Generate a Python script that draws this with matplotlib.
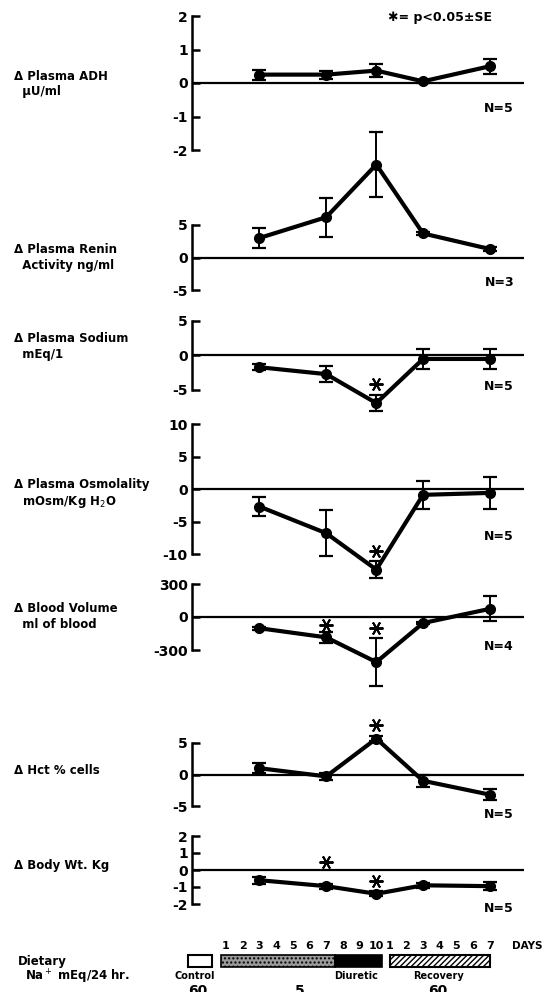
import numpy as np
import matplotlib
matplotlib.use("Agg")
import matplotlib.pyplot as plt
from matplotlib.patches import Rectangle

plt.rcParams['font.family'] = ['DejaVu Sans']

W, H = 546, 992

# sampling days (phase, day number)
point_phase = ['diuretic', 'diuretic', 'diuretic', 'recovery', 'recovery']
point_day = [3, 7, 10, 3, 7]

adh = [0.25, 0.25, 0.37, 0.05, 0.5]
adh_se = [0.15, 0.12, 0.2, 0.05, 0.22]
renin = [3.0, 6.2, 14.3, 3.7, 1.3]
renin_se = [1.6, 3.0, 5.0, 0.3, 0.3]
sodium = [-1.7, -2.7, -6.9, -0.5, -0.5]
sodium_se = [0.4, 1.2, 1.2, 1.4, 1.4]
osmo = [-2.7, -6.8, -12.4, -0.9, -0.6]
osmo_se = [1.4, 3.5, 1.3, 2.1, 2.5]
blood_vol = [-102, -185, -410, -55, 74]
blood_vol_se = [15, 52, 215, 12, 113]
hct = [1.0, -0.3, 5.7, -1.0, -3.2]
hct_se = [0.8, 0.5, 0.4, 1.0, 0.9]
body_wt = [-0.6, -0.95, -1.4, -0.9, -0.95]
body_wt_se = [0.2, 0.15, 0.15, 0.15, 0.25]

# significance stars: index of point, y where the star sits
sodium_star = ([2], [-4.2])
osmo_star = ([2], [-9.6])
blood_vol_star = ([1, 2], [-71, -100])
hct_star = ([2], [7.9])
body_wt_star = ([1, 2], [0.46, -0.63])

labels = ['\u0394 Plasma ADH\n  \u03bcU/ml',
          '\u0394 Plasma Renin\n  Activity ng/ml',
          '\u0394 Plasma Sodium\n  mEq/1',
          '\u0394 Plasma Osmolality\n  mOsm/Kg H$_2$O',
          '\u0394 Blood Volume\n  ml of blood',
          '\u0394 Hct % cells',
          '\u0394 Body Wt. Kg']
n_labels = ['N=5', 'N=3', 'N=5', 'N=5', 'N=4', 'N=5', 'N=5']
yticks = [[-2, -1, 0, 1, 2], [-5, 0, 5], [-5, 0, 5], [-10, -5, 0, 5, 10],
          [-300, 0, 300], [-5, 0, 5], [-2, -1, 0, 1, 2]]
ytick_labels = [['-2', '-1', '0', '1', '2'], ['-5', '0', '5'], ['-5', '0', '5'],
                ['-10', '-5', '0', '5', '10'], ['-300', '0', '300'],
                ['-5', '0', '5'], ['-2', '-1', '0', '1', '2']]

diuretic_days = list(range(1, 11))
recovery_days = list(range(1, 8))
diet_na = ['60', '5', '60']


def day_pos(phase, d):
    if phase == 'diuretic':
        return d
    return 9.8 + d


def fx(px):
    return px / W


def fy(px):
    return 1 - px / H


# pixel spans of each panel's y-axis (top, bottom) and text rows
panel_px = [(16, 150), (225, 290), (321, 390), (424, 554),
            (584, 650), (743, 806), (836, 904)]
label_px = [84, 258, 346, 494, 616, 770, 865]
n_px = [108, 283, 386, 536, 646, 814, 908]

series = [adh, renin, sodium, osmo, blood_vol, hct, body_wt]
errors = [adh_se, renin_se, sodium_se, osmo_se, blood_vol_se, hct_se, body_wt_se]
stars = [None, None, sodium_star, osmo_star, blood_vol_star, hct_star, body_wt_star]

x = [day_pos(p, d) for p, d in zip(point_phase, point_day)]
ax_left, ax_right = 192, 524
px_per_day = 16.7
xlim = ((ax_left - 226) / px_per_day + 1, (ax_right - 226) / px_per_day + 1)

fig = plt.figure(figsize=(W / 100, H / 100), dpi=100)

for i in range(7):
    top, bot = panel_px[i]
    ax = fig.add_axes([fx(ax_left), fy(bot), fx(ax_right - ax_left), (bot - top) / H])
    ax.patch.set_alpha(0)
    ax.set_xlim(*xlim)
    ax.set_ylim(yticks[i][0], yticks[i][-1])
    for s in ['top', 'right', 'bottom']:
        ax.spines[s].set_visible(False)
    ax.spines['left'].set_linewidth(1.8)
    ax.set_xticks([])
    ax.set_yticks(yticks[i])
    ax.set_yticklabels(ytick_labels[i], fontsize=10, fontweight='bold')
    ax.tick_params(axis='y', direction='in', length=6, width=1.8, pad=3)
    ax.axhline(0, color='black', lw=1.6)

    ax.errorbar(x, series[i], yerr=errors[i], fmt='none', ecolor='black',
                elinewidth=1.4, capsize=5, capthick=1.6, clip_on=False)
    ax.plot(x, series[i], color='black', lw=3, marker='o', markersize=7,
            clip_on=False, zorder=5)

    if stars[i] is not None:
        idx, sy = stars[i]
        ax.plot([x[k] for k in idx], sy, ls='none', marker=(6, 2, 90),
                markersize=10, mew=1.4, color='black', clip_on=False, zorder=6)

    fig.text(fx(14), fy(label_px[i]), labels[i], fontsize=8.5, fontweight='bold',
             va='center', ha='left', linespacing=1.3)
    fig.text(fx(514), fy(n_px[i]), n_labels[i], fontsize=9, fontweight='bold',
             va='center', ha='right')

fig.text(fx(388), fy(17), '\u2731= p<0.05\u00b1SE', fontsize=9, fontweight='bold',
         va='center', ha='left')

# dietary schedule bar at the bottom
bot_top = 935
bx = fig.add_axes([fx(ax_left), 0, fx(ax_right - ax_left), (H - bot_top) / H])
bx.set_xlim(*xlim)
bx.set_ylim(H, bot_top)


def dx(px):
    return (px - 226) / px_per_day + 1


bar_top, bar_bot = 955, 967
bx.add_patch(Rectangle((dx(188), bar_top), dx(212) - dx(188), bar_bot - bar_top,
                       facecolor='white', edgecolor='black', lw=1.5, clip_on=False))
bx.add_patch(Rectangle((dx(221), bar_top), dx(335) - dx(221), bar_bot - bar_top,
                       facecolor='#9a9a9a', hatch='....', edgecolor='black', lw=1.2,
                       clip_on=False))
bx.add_patch(Rectangle((dx(335), bar_top), dx(382) - dx(335), bar_bot - bar_top,
                       facecolor='black', edgecolor='black', lw=1.2, clip_on=False))
bx.add_patch(Rectangle((dx(390), bar_top), dx(490) - dx(390), bar_bot - bar_top,
                       facecolor='white', hatch='//////', edgecolor='black', lw=1.5,
                       clip_on=False))
bx.axis('off')
for d in diuretic_days:
    bx.text(day_pos('diuretic', d), 946, str(d), fontsize=8, fontweight='bold',
            ha='center', va='center')
for d in recovery_days:
    bx.text(day_pos('recovery', d), 946, str(d), fontsize=8, fontweight='bold',
            ha='center', va='center')
bx.text(dx(512), 946, 'DAYS', fontsize=7.5, fontweight='bold', ha='left', va='center')
bx.text(dx(195), 976, 'Control', fontsize=7, fontweight='bold', ha='center', va='center')
bx.text(dx(356), 976, 'Diuretic', fontsize=7, fontweight='bold', ha='center', va='center')
bx.text(dx(438), 976, 'Recovery', fontsize=7, fontweight='bold', ha='center', va='center')
for xp, t in zip([dx(198), dx(300), dx(438)], diet_na):
    bx.text(xp, 991, t, fontsize=10, fontweight='bold', ha='center', va='center',
            clip_on=False)

fig.text(fx(18), fy(962), 'Dietary', fontsize=8.5, fontweight='bold', va='center')
fig.text(fx(25), fy(977), 'Na$^+$ mEq/24 hr.', fontsize=8.5, fontweight='bold', va='center')

fig.savefig('out.png', dpi=100)
